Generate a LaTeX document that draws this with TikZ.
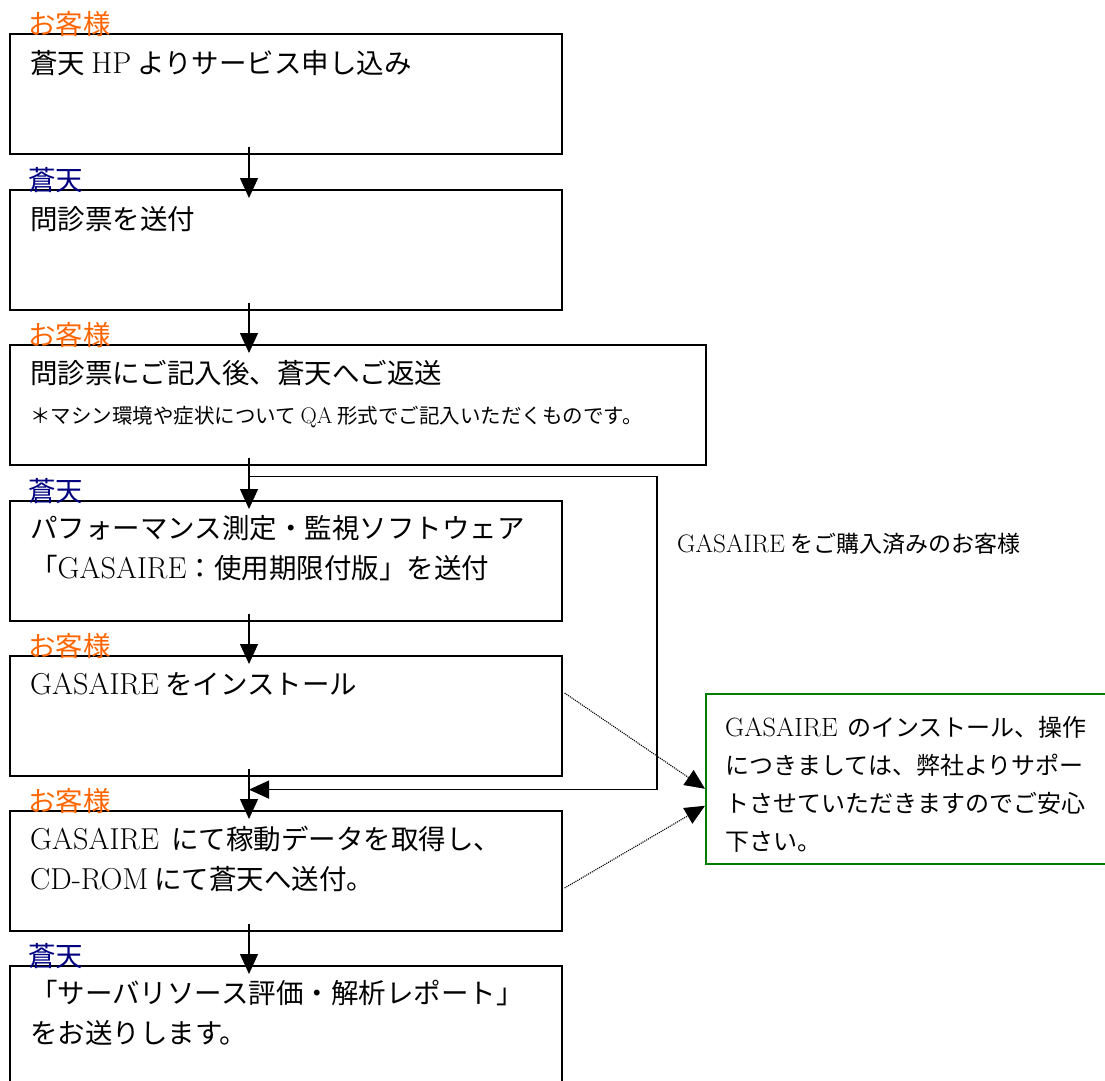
\documentclass[tikz,border=0pt]{standalone}
\usepackage{fontspec}
\setmainfont{Noto Sans CJK JP}
\newfontfamily\lat[Scale=1.1]{Latin Modern Roman}
\usepackage{xcolor}
\usepackage{tikz}
\usetikzlibrary{calc}
\usetikzlibrary{arrows.meta}

\definecolor{kyaku}{RGB}{255,102,0}
\definecolor{soten}{RGB}{0,0,128}
\definecolor{anshin}{RGB}{0,128,0}

\begin{document}
\begin{tikzpicture}[x=1pt,y=-1pt]%%flow

                \tikzstyle{stepbox} = [draw, line width=1.6pt, anchor=north west, minimum width=552pt, minimum height=120pt, inner sep=0pt]
                \tikzstyle{body}    = [anchor=base west, inner sep=0pt, align=left, font=\fontsize{27.5}{40}\selectfont]
                \tikzstyle{who}     = [anchor=base west, inner sep=0pt, font=\fontsize{27.5}{27.5}\selectfont]
                \tikzstyle{flow}    = [line width=1.3pt, -{Triangle[length=20pt,width=18pt]}]
                \tikzstyle{hint}    = [densely dotted, line width=1.1pt, -{Triangle[length=20pt,width=18pt]}]

                \useasboundingbox (0,0) rectangle (1105,1080);

                \node [stepbox](b1) at (9,33) {};
                \node [stepbox](b2) at (9,189) {};
                \node [stepbox, minimum width=696pt](b3) at (9,344) {};
                \node [stepbox](b4) at (9,500) {};
                \node [stepbox](b5) at (9,655) {};
                \node [stepbox](b6) at (9,810) {};
                \node [stepbox](b7) at (9,965) {};

                \foreach \b/\w/\c in {b1/お客様/kyaku, b2/蒼天/soten, b3/お客様/kyaku, b4/蒼天/soten,
                                      b5/お客様/kyaku, b6/お客様/kyaku, b7/蒼天/soten}{
                        \node [who, text=\c](w\b) at ($(\b.north west)+(19,1)$) {\w};
                }

                % base anchor of a two-line node sits on its last line
                \node [body](t1) at ($(b1.north west)+(21,40)$) {蒼天 {\lat HP} よりサービス申し込み};
                \node [body](t2) at ($(b2.north west)+(21,40)$) {問診票を送付};
                \node [body](t3) at ($(b3.north west)+(21,79)$) {問診票にご記入後、蒼天へご返送\\
                        {\fontsize{20.5}{24}\selectfont ＊マシン環境や症状について {\lat QA} 形式でご記入いただくものです。}};
                \node [body](t4) at ($(b4.north west)+(21,78)$) {パフォーマンス測定・監視ソフトウェア\\「{\lat GASAIRE}：使用期限付版」を送付};
                \node [body](t5) at ($(b5.north west)+(21,39)$) {{\lat GASAIRE} をインストール};
                \node [body](t6) at ($(b6.north west)+(21,79)$) {{\lat GASAIRE}\hspace{6pt} にて稼動データを取得し、\\{\lat CD-ROM} にて蒼天へ送付。};
                \node [body](t7) at ($(b7.north west)+(21,78)$) {「サーバリソース評価・解析レポート」\\をお送りします。};

                \node [draw=anshin, line width=1.5pt, anchor=north west, minimum width=402pt, minimum height=170pt, inner sep=0pt](note) at (705,693) {};
                \node [anchor=base west, inner sep=0pt, align=left, font=\fontsize{24}{38}\selectfont](notetext) at ($(note.north west)+(20,157)$)
                        {{\lat GASAIRE}\hspace{4pt} のインストール、操作\\につきましては、弊社よりサポー\\トさせていただきますのでご安心\\下さい。};

                \node [anchor=base west, inner sep=0pt, font=\fontsize{23}{23}\selectfont](owned) at (677,552) {{\lat GASAIRE} をご購入済みのお客様};

                \coordinate (spine) at (249,0);
                \coordinate (detour) at (657,0);
                \foreach \a/\b in {b1/b2, b2/b3, b3/b4, b4/b5, b5/b6, b6/b7}{
                        \draw [flow] ($(\a.south -| spine)+(0,-8)$) -- ($(\b.north -| spine)+(0,9)$);
                }

                \coordinate (d0) at ($(b3.south -| spine)+(0,11)$);
                \coordinate (d1) at ($(b5.south -| spine)+(0,13)$);
                \draw [flow] (d0) -- (d0 -| detour) -- (d1 -| detour) -- (d1);

                \draw [hint] ($(b5.north east)+(2,38)$) -- ($(note.west)+(0,10)$);
                \draw [hint] ($(b6.north east)+(2,78)$) -- ($(note.west)+(0,27)$);
\end{tikzpicture}
\end{document}
